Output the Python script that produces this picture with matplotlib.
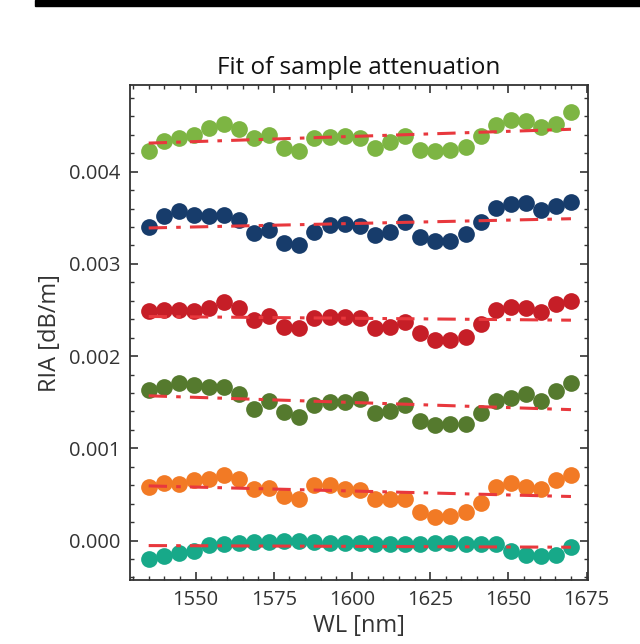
import numpy as np
import matplotlib
matplotlib.use('Agg')
import matplotlib.pyplot as plt
from matplotlib.ticker import MultipleLocator, FormatStrFormatter
from matplotlib.patches import Rectangle

plt.rcParams['font.family'] = ['Open Sans', 'DejaVu Sans']

# длины волн, нм
wl = [1535.0, 1539.8, 1544.6, 1549.5, 1554.3, 1559.1, 1563.9, 1568.8, 1573.6,
      1578.4, 1583.2, 1588.0, 1592.9, 1597.7, 1602.5, 1607.3, 1612.1, 1617.0,
      1621.8, 1626.6, 1631.4, 1636.3, 1641.1, 1645.9, 1650.7, 1655.5, 1660.4,
      1665.2, 1670.0]

# измеренные RIA, дБ/м (сверху вниз)
ria_green = [0.00422, 0.00433, 0.00437, 0.00440, 0.00447, 0.00452, 0.00446, 0.00437,
             0.00440, 0.00426, 0.00422, 0.00436, 0.00438, 0.00439, 0.00437, 0.00426,
             0.00432, 0.00439, 0.00424, 0.00422, 0.00423, 0.00427, 0.00439, 0.00451,
             0.00456, 0.00455, 0.00449, 0.00452, 0.00465]
ria_blue = [0.00340, 0.00352, 0.00357, 0.00353, 0.00352, 0.00353, 0.00348, 0.00333,
            0.00337, 0.00323, 0.00321, 0.00335, 0.00342, 0.00343, 0.00341, 0.00331,
            0.00335, 0.00345, 0.00329, 0.00325, 0.00325, 0.00332, 0.00345, 0.00361,
            0.00365, 0.00366, 0.00358, 0.00363, 0.00367]
ria_red = [0.00249, 0.00250, 0.00250, 0.00249, 0.00252, 0.00259, 0.00252, 0.00239,
           0.00243, 0.00232, 0.00230, 0.00241, 0.00242, 0.00242, 0.00241, 0.00230,
           0.00232, 0.00237, 0.00225, 0.00218, 0.00217, 0.00221, 0.00235, 0.00250,
           0.00253, 0.00252, 0.00248, 0.00256, 0.00260]
ria_olive = [0.00163, 0.00166, 0.00171, 0.00169, 0.00166, 0.00167, 0.00159, 0.00143,
             0.00151, 0.00139, 0.00134, 0.00147, 0.00150, 0.00150, 0.00153, 0.00138,
             0.00140, 0.00147, 0.00130, 0.00125, 0.00126, 0.00126, 0.00138, 0.00151,
             0.00155, 0.00159, 0.00151, 0.00162, 0.00171]
ria_orange = [0.000586, 0.000622, 0.000611, 0.000658, 0.000672, 0.000708, 0.000672,
              0.000557, 0.000575, 0.000485, 0.000456, 0.000600, 0.000600, 0.000564,
              0.000550, 0.000449, 0.000449, 0.000449, 0.000305, 0.000251, 0.000270,
              0.000313, 0.000413, 0.000586, 0.000622, 0.000586, 0.000564, 0.000658,
              0.000708]
ria_teal = [-0.000197, -0.000162, -0.000137, -0.000108, -0.000046, -0.000036, -0.000025,
            -0.000011, -0.000011, 0.000000, 0.000000, -0.000011, -0.000025, -0.000025,
            -0.000025, -0.000036, -0.000036, -0.000036, -0.000036, -0.000025, -0.000025,
            -0.000036, -0.000036, -0.000036, -0.000108, -0.000154, -0.000162, -0.000154,
            -0.000072]

# линейные фиты: значение в начале и в конце диапазона
fit_start = [0.00431, 0.00339, 0.00243, 0.00157, 0.000593, -0.000054]
fit_end = [0.00446, 0.00349, 0.00239, 0.00142, 0.000478, -0.000072]

series = [ria_green, ria_blue, ria_red, ria_olive, ria_orange, ria_teal]
colors = ['#7db543', '#173c6b', '#c61e27', '#557a2e', '#f27a25', '#17a989']

fig = plt.figure(figsize=(6.4, 6.44), dpi=100)
ax = fig.add_axes([0.203, 0.099, 0.716, 0.769])

for vals, fs, fe, c in zip(series, fit_start, fit_end, colors):
    ax.scatter(wl, vals, s=145, color=c, zorder=2, linewidths=0)
    ax.plot([wl[0], wl[-1]], [fs, fe], color='#e8383d', linestyle='-.',
            linewidth=2.2, dashes=(6, 3, 1.5, 3), zorder=3)

ax.set_xlim(1529, 1675.5)
ax.set_ylim(-0.00043, 0.00494)
ax.xaxis.set_major_locator(MultipleLocator(25))
ax.xaxis.set_minor_locator(MultipleLocator(5))
ax.yaxis.set_major_locator(MultipleLocator(0.001))
ax.yaxis.set_minor_locator(MultipleLocator(0.0002))
ax.yaxis.set_major_formatter(FormatStrFormatter('%.3f'))

ax.tick_params(which='both', direction='in', top=True, right=True,
               colors='#333333', labelcolor='#333333', labelsize=14.5, pad=7)
ax.tick_params(which='major', length=6, width=1.2)
ax.tick_params(which='minor', length=3, width=1.0)
for sp in ax.spines.values():
    sp.set_linewidth(1.3)
    sp.set_color('#333333')

ax.set_xlabel('WL [nm]', fontsize=17, color='#333333', labelpad=3)
ax.set_ylabel('RIA [dB/m]', fontsize=17, color='#333333', labelpad=5)
ax.set_title('Fit of sample attenuation', fontsize=17.5, color='#111111', pad=8)

# тёмная полоса сверху (как на скриншоте)
fig.patches.append(Rectangle((35 / 640, 1 - 6 / 644), 1, 6 / 644,
                             transform=fig.transFigure, color='black', zorder=0))

fig.savefig('out.png', dpi=100)
